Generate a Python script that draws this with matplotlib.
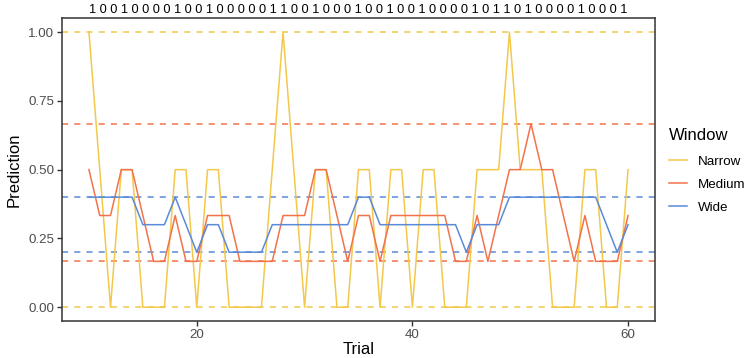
import matplotlib
matplotlib.use("Agg")
import matplotlib.pyplot as plt

plt.rcParams["font.family"] = ["Liberation Sans", "DejaVu Sans"]

# trial numbers and the outcome sequence shown on top
trials = list(range(10, 61))
outcomes = "100100001001000001100100010010010000101101000010001"

narrow = [1, .5, 0, .5, .5, 0, 0, 0, .5, .5,
          0, .5, .5, 0, 0, 0, 0, .5, 1, .5,
          0, .5, .5, 0, 0, .5, .5, 0, .5, .5,
          0, .5, .5, 0, 0, 0, .5, .5, .5, 1,
          .5, .5, .5, 0, 0, 0, .5, .5, 0, 0,
          .5]
medium = [3, 2, 2, 3, 3, 2, 1, 1, 2, 1,
          1, 2, 2, 2, 1, 1, 1, 1, 2, 2,
          2, 3, 3, 2, 1, 2, 2, 1, 2, 2,
          2, 2, 2, 2, 1, 1, 2, 1, 2, 3,
          3, 4, 3, 3, 2, 1, 2, 1, 1, 1,
          2]
medium = [m / 6 for m in medium]
wide = [.4, .4, .4, .4, .4, .3, .3, .3, .4, .3,
        .2, .3, .3, .2, .2, .2, .2, .3, .3, .3,
        .3, .3, .3, .3, .3, .4, .4, .3, .3, .3,
        .3, .3, .3, .3, .3, .2, .3, .3, .3, .4,
        .4, .4, .4, .4, .4, .4, .4, .4, .3, .2,
        .3]

series = {"Narrow": narrow, "Medium": medium, "Wide": wide}
colors = {"Narrow": "#F3C84B", "Medium": "#F2734B", "Wide": "#5A8BD8"}

fig = plt.figure(figsize=(7.49, 3.58), dpi=100)
ax = fig.add_axes([62 / 749, 37 / 358, 593 / 749, 302.7 / 358])

# min / max reference lines for each window
for name, vals in series.items():
    for v in (min(vals), max(vals)):
        ax.axhline(v, color=colors[name], lw=1.1, dashes=(4, 4))

for name, vals in series.items():
    ax.plot(trials, vals, color=colors[name], lw=1.1, label=name)

ax.set_xlim(7.5, 62.5)
ax.set_ylim(-0.05, 1.05)
ax.set_xticks([20, 40, 60])
ax.set_yticks([0, 0.25, 0.5, 0.75, 1.0])
ax.set_yticklabels(["0.00", "0.25", "0.50", "0.75", "1.00"])
ax.tick_params(direction="out", length=3.5, width=1, color="#333333",
               labelcolor="#4D4D4D", labelsize=9.6, pad=2)
for s in ax.spines.values():
    s.set_color("#333333")
    s.set_linewidth(1.1)

ax.set_xlabel("Trial", fontsize=12, labelpad=1)
ax.set_ylabel("Prediction", fontsize=12, labelpad=5)

fig.text(358.5 / 749, 1 - 10 / 358, " ".join(outcomes), ha="center", va="center",
         fontsize=9.2)

leg = ax.legend(title="Window", loc="upper left", bbox_to_anchor=(1.013, 0.66),
                frameon=False, fontsize=9.6, title_fontsize=12, borderpad=0,
                handlelength=1.35, handletextpad=0.8, labelspacing=0.8)
leg._legend_box.align = "left"
leg._legend_box.sep = 9

fig.savefig("out.png", dpi=100)
